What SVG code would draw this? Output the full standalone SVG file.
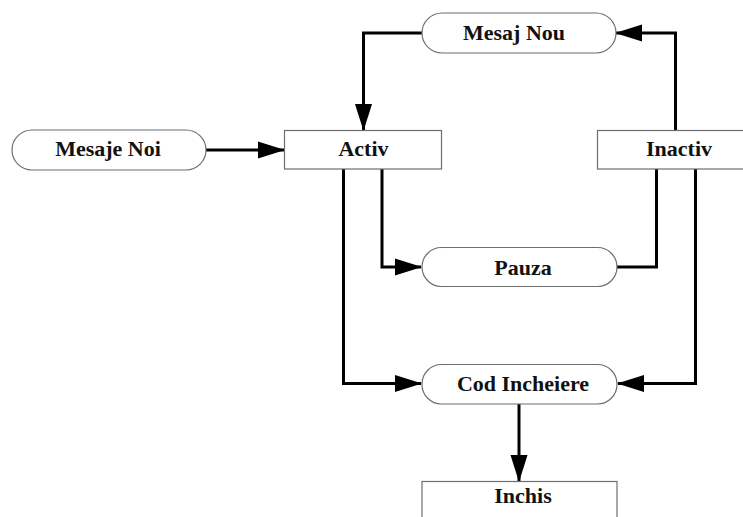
<svg xmlns="http://www.w3.org/2000/svg" width="743" height="517" viewBox="0 0 743 517">
  <style>
    .node { fill: #ffffff; stroke: #6e6e6e; stroke-width: 1.2; }
    .label { font-family: "Liberation Serif", "Times New Roman", serif; font-weight: bold; font-size: 22px; fill: #111; text-anchor: middle; }
    .edge { fill: none; stroke: #000; stroke-width: 3; stroke-linejoin: miter; }
  </style>
  <defs>
    <marker id="arrow" markerUnits="userSpaceOnUse" markerWidth="27" markerHeight="18" refX="26" refY="9" orient="auto">
      <path d="M0,0.5 L27,9 L0,17.5 z" fill="#000"/>
    </marker>
  </defs>
  <rect width="743" height="517" fill="#ffffff"/>

  <g id="connectors">
    <path class="edge" d="M206,150 H284" marker-end="url(#arrow)"/>
    <path class="edge" d="M422,33 H363.5 V130" marker-end="url(#arrow)"/>
    <path class="edge" d="M675.5,130 V33 H616" marker-end="url(#arrow)"/>
    <path class="edge" d="M382,169 V267 H421" marker-end="url(#arrow)"/>
    <path class="edge" d="M656.5,169 V267 H617"/>
    <path class="edge" d="M343.5,169 V383.5 H421" marker-end="url(#arrow)"/>
    <path class="edge" d="M695.5,169 V383.5 H618" marker-end="url(#arrow)"/>
    <path class="edge" d="M519,404 V481" marker-end="url(#arrow)"/>
  </g>

  <g id="mesaj-nou">
    <rect class="node" x="422" y="13" width="194" height="40" rx="20" ry="20"/>
    <text class="label" x="514" y="40">Mesaj Nou</text>
  </g>
  <g id="mesaje-noi">
    <rect class="node" x="12" y="130" width="194" height="40" rx="20" ry="20"/>
    <text class="label" x="108" y="156">Mesaje Noi</text>
  </g>
  <g id="activ">
    <rect class="node" x="284.5" y="130.5" width="157" height="38.5"/>
    <text class="label" x="363.5" y="156">Activ</text>
  </g>
  <g id="inactiv">
    <rect class="node" x="597.5" y="130.5" width="160" height="38.5"/>
    <text class="label" x="679" y="156">Inactiv</text>
  </g>
  <g id="pauza">
    <rect class="node" x="422" y="247.5" width="195" height="39" rx="19.5" ry="19.5"/>
    <text class="label" x="523" y="275">Pauza</text>
  </g>
  <g id="cod-incheiere">
    <rect class="node" x="422" y="364.5" width="195" height="39.5" rx="19.5" ry="19.5"/>
    <text class="label" x="523" y="391">Cod Incheiere</text>
  </g>
  <g id="inchis">
    <rect class="node" x="422" y="481.5" width="195" height="40"/>
    <text class="label" x="523" y="503">Inchis</text>
  </g>
</svg>
